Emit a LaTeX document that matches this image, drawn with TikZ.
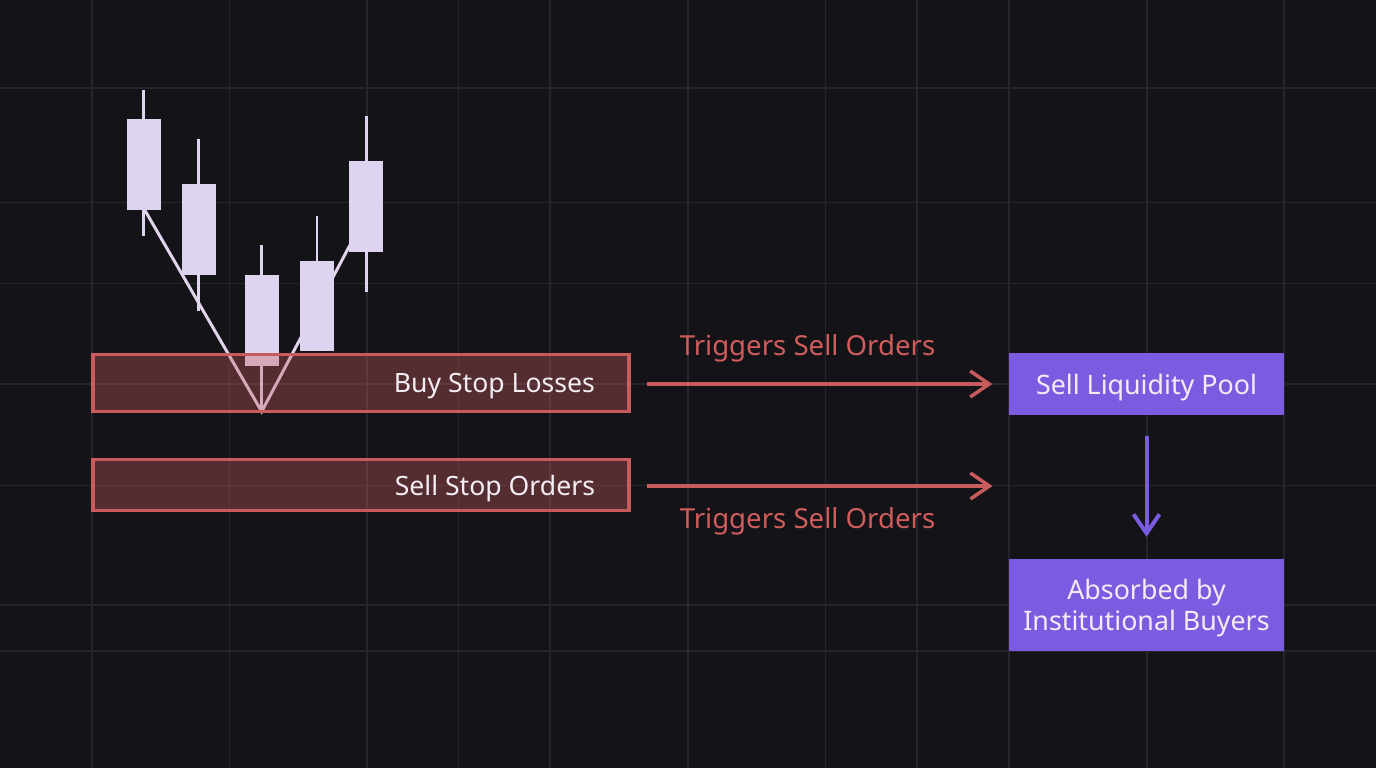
\documentclass[tikz,border=0pt]{standalone}
\usepackage{fontspec}
\setmainfont{Noto Sans}
\usetikzlibrary{arrows.meta}
\definecolor{bg}{HTML}{131318}
\definecolor{gridc}{HTML}{25262D}
\definecolor{candlec}{HTML}{DED4F0}
\definecolor{vlinec}{HTML}{E2D4EC}
\definecolor{redc}{HTML}{C85C5C}
\definecolor{redtxt}{HTML}{D05C5C}
\definecolor{purp}{HTML}{7B5CE0}
\definecolor{boxtxt}{HTML}{F3EDF3}
\tikzset{
  gridline/.style={draw=gridc, line width=1.6pt},
  wick/.style={draw=candlec, line width=2.6pt},
  body/.style={fill=candlec},
  vpath/.style={draw=vlinec, line width=3pt, line join=miter},
  zone/.style={draw=redc, line width=3.3pt, fill=redc, fill opacity=0.36, text opacity=1,
    text=boxtxt, inner xsep=34pt, inner ysep=0pt,
    minimum width=536pt, font=\fontsize{26.6}{30}\selectfont},
  poolbox/.style={fill=purp, text=boxtxt, minimum width=275pt, inner sep=0pt, align=center,
    font=\fontsize{26.8}{31.5}\selectfont},
  trig/.style={text=redtxt, inner sep=0pt, font=\fontsize{27.6}{30}\selectfont},
  redarrow/.style={draw=redc, line width=3.5pt, -{Straight Barb[length=19pt,width=26pt]}},
  purparrow/.style={draw=purp, line width=4pt, -{Straight Barb[length=19pt,width=26pt]}}
}
\begin{document}
\begin{tikzpicture}[x=1pt,y=-1pt]
\useasboundingbox (0,0) rectangle (1376,768);
\fill[bg] (0,0) rectangle (1376,768);
% grid
\foreach \gx in {92,229.5,367,458.5,550,688,825.5,917,1009,1147,1284}
  \draw[gridline] (\gx,0) -- (\gx,768);
\foreach \gy in {88,202.5,283.5,384,485.5,605,651}
  \draw[gridline] (0,\gy) -- (1376,\gy);
% V path
\draw[vpath] (145,210.5) -- (261.7,411.5) -- (350,245);
% candles: cx, wick top, body top, body bottom, wick bottom
\foreach \cx/\wt/\bt/\bb/\wb in {143.7/90/119.3/210/236, 198.5/139/184.3/275/311, 261.7/245/275.3/366/410, 316.8/216/261.3/351.3/351.3, 366.3/116/161.3/252/292}{
  \draw[wick] (\cx,\wt) -- (\cx,\wb);
  \fill[body] (\cx-17,\bt) rectangle (\cx+17,\bb);
}
% zones
\node[zone, minimum height=57.4pt, text height=18.8pt, text depth=0pt] (buy) at (361,383) {\makebox[468pt][r]{Buy Stop Losses}};
\node[zone, minimum height=51pt, text height=21pt, text depth=0pt] (sell) at (361,485) {\makebox[468pt][r]{Sell Stop Orders}};
% pools
\node[poolbox, minimum height=62pt, text height=20pt, text depth=0pt] (liq) at (1146.5,384) {Sell Liquidity Pool};
\node[poolbox, minimum height=92pt] (absorb) at (1146.5,605) {};
\node[poolbox, fill=none, minimum height=0pt] (absorbtxt) at (1146.5,608) {Absorbed by\\Institutional Buyers};
% labels
\node[trig, anchor=base] (t1) at (807.5,355) {Triggers Sell Orders};
\node[trig, anchor=base] (t2) at (807.5,528) {Triggers Sell Orders};
% arrows
\coordinate (sellend) at (992.5,486);
\draw[redarrow] ([xshift=16pt,yshift=-1pt]buy.east) -- ([xshift=-16.5pt]liq.west);
\draw[redarrow] ([xshift=16pt,yshift=-1pt]sell.east) -- (sellend);
\draw[purparrow] ([yshift=-21pt]liq.south) -- ([yshift=22pt]absorb.north);
\end{tikzpicture}
\end{document}
